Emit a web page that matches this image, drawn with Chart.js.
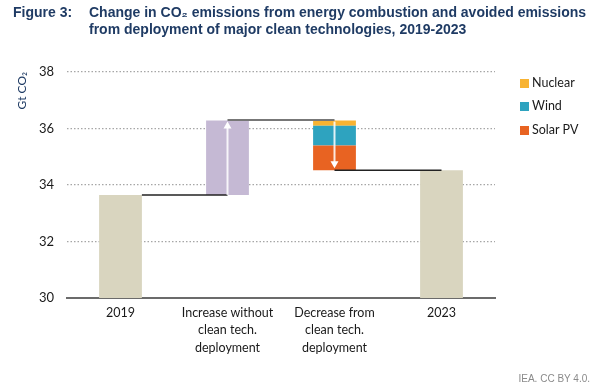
<!DOCTYPE html>
<html>
<head>
<meta charset="utf-8">
<script src="https://cdn.jsdelivr.net/npm/chart.js@4/dist/chart.umd.min.js"></script>
<style>
  html, body { margin:0; padding:0; background:#fff; }
  #wrap { position:relative; width:597px; height:391px; overflow:hidden; }
  #c { position:absolute; left:0; top:0; }
  .title { position:absolute; top:4px; font-family:"Liberation Sans", Arial, sans-serif; font-weight:bold; font-size:14px; line-height:16.7px; color:#1f3b64; white-space:nowrap; }
  #fig { left:13px; }
  #ttl { left:89px; }
  .leg { position:absolute; left:520px; font-family:Lato, sans-serif; font-size:12.5px; color:#1a1a1a; height:16px; line-height:16px; }
  .leg span { display:inline-block; width:9px; height:9px; margin-right:3px; vertical-align:-0.5px; }
  #foot { position:absolute; right:7px; top:373px; font-family:"Liberation Sans", Arial, sans-serif; font-size:10px; color:#8a8a8a; }
</style>
</head>
<body>
<div id="wrap">
  <canvas id="c" width="597" height="391"></canvas>
  <div class="title" id="fig">Figure 3:</div>
  <div class="title" id="ttl">Change in CO₂ emissions from energy combustion and avoided emissions<br>from deployment of major clean technologies, 2019-2023</div>
  <div id="legend"></div>
  <div id="foot">IEA. CC BY 4.0.</div>
</div>
<script>
// ---- data ----
const categories = ['2019', ['Increase without', 'clean tech.', 'deployment'], ['Decrease from', 'clean tech.', 'deployment'], '2023'];
const yTicks = [30, 32, 34, 36, 38];
const axisMin = 30;
const axisMax = 38;
const emissions2019 = 33.65;
const increaseWithoutCleanTech = 2.63;
const solarPV = 0.88;
const wind = 0.70;
const nuclear = 0.18;
const emissions2023 = 34.52;
const legendNames = ['Nuclear', 'Wind', 'Solar PV'];

const colors = { total:'#d9d5bf', increase:'#c5b9d4', nuclear:'#f8b332', wind:'#2ea3bf', solar:'#e86322' };

const peak = emissions2019 + increaseWithoutCleanTech;
const solarTop = emissions2023 + solarPV;
const windTop = solarTop + wind;

const totalsData = [[axisMin, emissions2019], null, null, [axisMin, emissions2023]];
const increaseData = [null, [emissions2019, peak], null, null];
const solarData = [null, null, [emissions2023, solarTop], null];
const windData = [null, null, [solarTop, windTop], null];
const nuclearData = [null, null, [windTop, windTop + nuclear], null];

// legend (HTML)
const legColors = [colors.nuclear, colors.wind, colors.solar];
const legTops = [75, 98, 122];
const legEl = document.getElementById('legend');
legendNames.forEach((n, i) => {
  const d = document.createElement('div');
  d.className = 'leg';
  d.style.top = legTops[i] + 'px';
  d.innerHTML = '<span style="background:' + legColors[i] + '"></span>' + n;
  legEl.appendChild(d);
});

const overlay = {
  id: 'overlay',
  afterDatasetsDraw(chart) {
    const ctx = chart.ctx;
    const y = chart.scales.y;
    const m0 = chart.getDatasetMeta(0).data;
    const m1 = chart.getDatasetMeta(1).data;
    const m2 = chart.getDatasetMeta(2).data;
    const x0r = m0[0].x + m0[0].width / 2;
    const x1 = m1[1].x, x2 = m2[2].x, x3 = m0[3].x;
    ctx.save();
    ctx.lineWidth = 1.5;
    ctx.strokeStyle = '#222';
    ctx.beginPath();
    ctx.moveTo(x0r, y.getPixelForValue(emissions2019));
    ctx.lineTo(x1, y.getPixelForValue(emissions2019));
    ctx.stroke();
    ctx.strokeStyle = '#777';
    ctx.lineWidth = 2;
    ctx.beginPath();
    ctx.moveTo(x1, y.getPixelForValue(peak) - 0.5);
    ctx.lineTo(x2, y.getPixelForValue(peak) - 0.5);
    ctx.stroke();
    ctx.strokeStyle = '#222';
    ctx.lineWidth = 1.5;
    ctx.beginPath();
    ctx.moveTo(x2, y.getPixelForValue(emissions2023));
    ctx.lineTo(x3, y.getPixelForValue(emissions2023));
    ctx.stroke();
    function arrow(x, yFrom, yTo) {
      const dir = yTo < yFrom ? -1 : 1;
      ctx.strokeStyle = 'rgba(255,255,255,0.85)';
      ctx.fillStyle = '#fff';
      ctx.lineWidth = 2;
      ctx.beginPath();
      ctx.moveTo(x, yFrom);
      ctx.lineTo(x, yTo - dir * 6);
      ctx.stroke();
      ctx.beginPath();
      ctx.moveTo(x, yTo);
      ctx.lineTo(x - 4, yTo - dir * 7);
      ctx.lineTo(x + 4, yTo - dir * 7);
      ctx.closePath();
      ctx.fill();
    }
    arrow(x1, y.getPixelForValue(emissions2019), y.getPixelForValue(peak) + 1);
    arrow(x2, y.getPixelForValue(peak) + 1, y.getPixelForValue(emissions2023) - 2);
    ctx.restore();
  }
};

const ds = (label, data, color) => ({ label, data, backgroundColor: color, borderWidth: 0, categoryPercentage: 1, barPercentage: 0.4, skipNull: true });

new Chart(document.getElementById('c'), {
  type: 'bar',
  data: {
    labels: categories,
    datasets: [
      ds('Total', totalsData, colors.total),
      ds('Increase', increaseData, colors.increase),
      ds('Solar PV', solarData, colors.solar),
      ds('Wind', windData, colors.wind),
      ds('Nuclear', nuclearData, colors.nuclear)
    ]
  },
  options: {
    responsive: false,
    animation: false,
    events: [],
    layout: { padding: { top: 72, right: 102, left: 0, bottom: 0 } },
    plugins: { legend: { display: false }, tooltip: { enabled: false }, title: { display: false } },
    scales: {
      x: {
        stacked: true,
        grid: { display: false, drawTicks: false },
        border: { display: true, color: '#6b6b6b', width: 2 },
        ticks: { color: '#1a1a1a', padding: 6, font: { family: 'Lato', size: 12.5, lineHeight: 1.4 }, maxRotation: 0, autoSkip: false },
        afterFit(s) { s.height = 93; }
      },
      y: {
        stacked: false,
        min: axisMin, max: axisMax,
        afterBuildTicks(s) { s.ticks = yTicks.map(v => ({ value: v })); },
        grid: { color: '#a6a6a6', lineWidth: 1.3, drawTicks: false },
        border: { display: false, dash: [1.5, 2] },
        ticks: { color: '#1a1a1a', padding: 13, font: { family: 'Lato', size: 13 } },
        title: { display: true, text: 'Gt CO₂', align: 'end', color: '#1f3b64', padding: { top: 15, bottom: 0 }, font: { family: 'Lato', size: 12 } },
        afterFit(s) { s.width = 67; }
      }
    }
  },
  plugins: [overlay]
});
</script>
</body>
</html>
